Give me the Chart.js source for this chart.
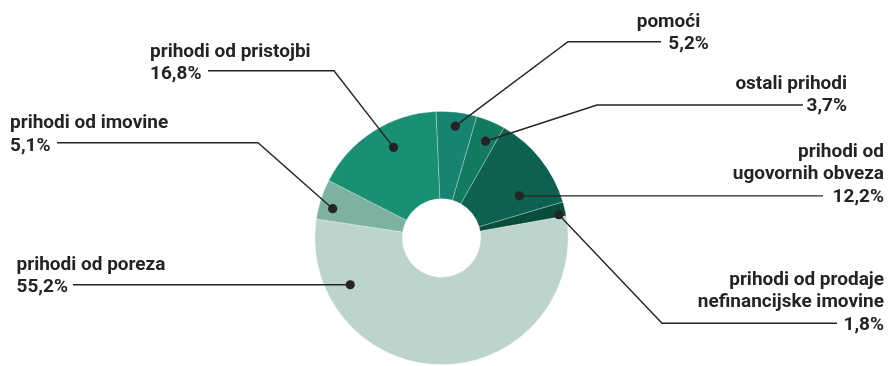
<!DOCTYPE html>
<html>
<head>
<meta charset="utf-8">
<script src="https://cdn.jsdelivr.net/npm/chart.js@4"></script>
<style>
  html, body { margin: 0; padding: 0; background: #ffffff; }
  canvas { display: block; }
</style>
</head>
<body>
<canvas id="c" width="888" height="366"></canvas>
<script>
// ---- data ----
const categories = [
  'pomoći',
  'ostali prihodi',
  'prihodi od ugovornih obveza',
  'prihodi od prodaje nefinancijske imovine',
  'prihodi od poreza',
  'prihodi od imovine',
  'prihodi od pristojbi'
];
const shares = [5.2, 3.7, 12.2, 1.8, 55.2, 5.1, 16.8];
const labelLines = [
  ['pomoći'],
  ['ostali prihodi'],
  ['prihodi od', 'ugovornih obveza'],
  ['prihodi od prodaje', 'nefinancijske imovine'],
  ['prihodi od poreza'],
  ['prihodi od imovine'],
  ['prihodi od pristojbi']
];

// ---- styling / layout ----
const colors = ['#168470', '#137a62', '#0d6150', '#0a4d3b', '#bcd4cb', '#7db39e', '#198f73'];
const TEXT = '#262324';
// callout layout: dot position inside slice (angle fraction, radius fraction),
// text block (x, baseline of first line, align, per-line x overrides), connector path
const callouts = [
  { f: 0.51, rf: 0.89, x: [636.7, 668.3], y: 26.5, align: 'left', start: [661, 41.7], elbow: [568, 41.7] },
  { f: 0.62, rf: 0.84, x: [847], y: 88.5, align: 'right', start: [803, 105], elbow: [597, 105] },
  { f: 0.73, rf: 0.70, x: [884], y: 157, align: 'right', start: [823, null], elbow: null },
  { f: 0.82, rf: 0.945, x: [884], y: 285, align: 'right', start: [837, 323.3], elbow: [662, 323.3] },
  { f: 0.82, rf: 0.81, x: [16.5], y: 270, align: 'left', start: [73, null], elbow: null },
  { f: 0.35, rf: 0.89, x: [10], y: 128.3, align: 'left', start: [57, 142.7], elbow: [258, 142.7] },
  { f: 0.58, rf: 0.81, x: [150], y: 56.7, align: 'left', start: [208, 70.7], elbow: [334, 70.7] }
];

const fmt = v => v.toFixed(1).replace('.', ',') + '%';

const calloutPlugin = {
  id: 'callouts',
  afterDraw(chart) {
    const ctx = chart.ctx;
    const meta = chart.getDatasetMeta(0);
    ctx.save();
    meta.data.forEach((arc, i) => {
      const c = callouts[i];
      const p = arc.getProps(['x', 'y', 'startAngle', 'endAngle', 'outerRadius'], true);
      const a = p.startAngle + c.f * (p.endAngle - p.startAngle);
      const r = p.outerRadius * c.rf;
      const dx = p.x + Math.cos(a) * r;
      const dy = p.y + Math.sin(a) * r;
      // connector
      ctx.strokeStyle = TEXT;
      ctx.lineWidth = 1.4;
      ctx.beginPath();
      const sy = c.start[1] === null ? dy : c.start[1];
      ctx.moveTo(c.start[0], sy);
      if (c.elbow) ctx.lineTo(c.elbow[0], c.elbow[1]);
      ctx.lineTo(dx, dy);
      ctx.stroke();
      // dot
      ctx.fillStyle = TEXT;
      ctx.beginPath();
      ctx.arc(dx, dy, 4.6, 0, Math.PI * 2);
      ctx.fill();
      // text
      const lines = labelLines[i].concat([fmt(shares[i])]);
      ctx.font = 'bold 19px Roboto';
      ctx.textAlign = c.align;
      ctx.textBaseline = 'alphabetic';
      lines.forEach((t, k) => {
        const x = c.x[k] !== undefined ? c.x[k] : c.x[0];
        ctx.fillText(t, x, c.y + k * 22.4);
      });
    });
    ctx.restore();
  }
};

new Chart(document.getElementById('c'), {
  type: 'doughnut',
  data: {
    labels: categories,
    datasets: [{
      data: shares,
      backgroundColor: colors,
      borderColor: 'rgba(255,255,255,0.35)',
      borderWidth: 0.8,
      hoverOffset: 0
    }]
  },
  options: {
    responsive: false,
    animation: false,
    rotation: -2.5,
    cutout: '31%',
    layout: { padding: { top: 111, bottom: 1, left: 0, right: 5 } },
    plugins: {
      legend: { display: false },
      tooltip: { enabled: false }
    }
  },
  plugins: [calloutPlugin]
});
</script>
</body>
</html>
